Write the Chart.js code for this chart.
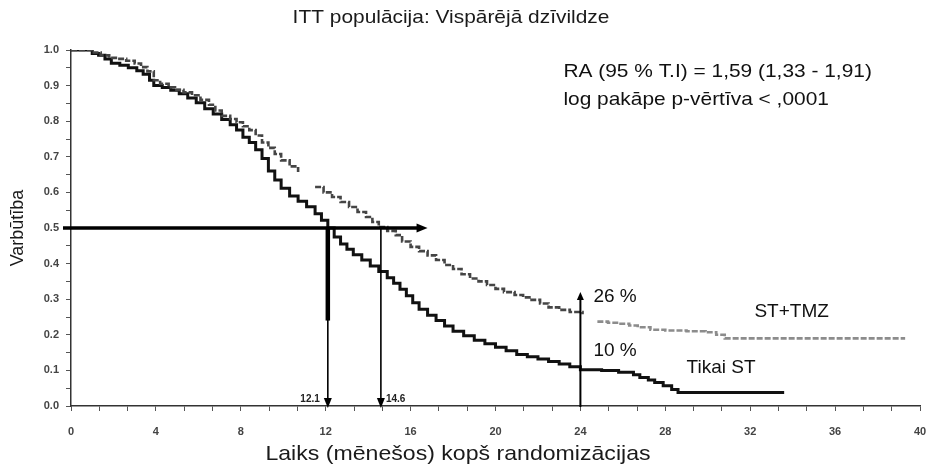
<!DOCTYPE html>
<html><head><meta charset="utf-8">
<script src="https://cdn.jsdelivr.net/npm/chart.js@4.4.1/dist/chart.umd.min.js"></script>
<style>html,body{margin:0;padding:0;background:#fff}#wrap{width:930px;height:468px;position:relative}canvas{display:block}</style>
</head><body><div id="wrap"><canvas id="c" width="930" height="468" style="width:930px;height:468px"></canvas></div>
<script>
// ---- data ----
const tmzTime = [0, 0.6, 1.0, 1.4, 1.8, 2.2, 2.6, 3.0, 3.3, 3.6, 3.9, 4.2, 4.6, 4.9, 5.3, 5.7, 6.1, 6.5, 6.8, 7.1, 7.5, 7.8, 8.1, 8.4, 8.7, 9.0, 9.3, 9.6, 9.9, 10.3, 10.7, 11.1, 11.5, 11.9, 12.3, 12.7, 13.1, 13.5, 13.9, 14.2, 14.5, 14.9, 15.3, 15.6, 16.0, 16.4, 16.8, 17.2, 17.6, 18.0, 18.4, 18.8, 19.2, 19.6, 20.0, 20.4, 20.9, 21.3, 21.7, 22.1, 22.5, 23.0, 23.5, 24.1, 24.4, 24.8, 25.3, 25.8, 26.3, 26.7, 27.3, 28.0, 29.0, 29.9, 30.4, 30.8, 39.3];
const tmzSurv = [1.0, 1.0, 0.993, 0.985, 0.978, 0.975, 0.97, 0.962, 0.952, 0.94, 0.915, 0.905, 0.895, 0.888, 0.881, 0.873, 0.86, 0.846, 0.83, 0.815, 0.806, 0.797, 0.786, 0.775, 0.76, 0.74, 0.725, 0.708, 0.69, 0.673, 0.657, null, 0.615, 0.6, 0.587, 0.573, 0.559, 0.545, 0.531, 0.517, 0.503, 0.492, 0.48, 0.462, 0.447, 0.435, 0.423, 0.41, 0.396, 0.385, 0.37, 0.358, 0.35, 0.34, 0.329, 0.32, 0.312, 0.305, 0.298, 0.288, 0.277, 0.27, 0.264, 0.258, null, 0.237, 0.234, 0.231, 0.226, 0.221, 0.214, 0.212, 0.21, 0.207, 0.2, 0.19, 0.19];
const stTime = [0, 0.7, 1.0, 1.3, 1.6, 1.9, 2.3, 2.7, 3.1, 3.4, 3.7, 3.9, 4.3, 4.7, 5.1, 5.5, 5.9, 6.3, 6.7, 7.1, 7.5, 7.8, 8.1, 8.4, 8.7, 9.0, 9.3, 9.6, 9.9, 10.3, 10.7, 11.1, 11.5, 11.8, 12.1, 12.4, 12.7, 13.0, 13.3, 13.7, 14.1, 14.5, 14.9, 15.2, 15.5, 15.8, 16.1, 16.4, 16.8, 17.2, 17.6, 18.0, 18.5, 19.0, 19.5, 20.0, 20.5, 21.0, 21.5, 22.0, 22.5, 23.0, 23.5, 24.0, 25.0, 25.8, 26.5, 26.8, 27.2, 27.5, 27.9, 28.3, 28.6, 33.6];
const stSurv = [1.0, 1.0, 0.99, 0.985, 0.975, 0.963, 0.957, 0.95, 0.942, 0.932, 0.915, 0.90, 0.895, 0.887, 0.877, 0.865, 0.852, 0.835, 0.82, 0.805, 0.79, 0.775, 0.755, 0.74, 0.72, 0.695, 0.66, 0.635, 0.612, 0.59, 0.575, 0.56, 0.54, 0.522, 0.50, 0.475, 0.455, 0.44, 0.425, 0.41, 0.393, 0.378, 0.36, 0.345, 0.328, 0.31, 0.29, 0.272, 0.255, 0.24, 0.225, 0.21, 0.197, 0.185, 0.175, 0.165, 0.155, 0.145, 0.138, 0.132, 0.125, 0.118, 0.11, 0.102, 0.10, 0.095, 0.088, 0.08, 0.073, 0.066, 0.057, 0.046, 0.038, 0.038];
const seriesNames = ['ST+TMZ', 'Tikai ST'];
const xTickLabels = ['0','4','8','12','16','20','24','28','32','36','40'];
const yTickLabels = ['0.0','0.1','0.2','0.3','0.4','0.5','0.6','0.7','0.8','0.9','1.0'];
const medianLevel = 0.5;
const medianTimes = [12.1, 14.6];
const medianLabels = ['12.1', '14.6'];
const medianArrowEnd = 16.8;
const landmarkTime = 24;
const landmarkTop = 0.32;
const landmarkLabels = ['26 %', '10 %'];
const landmarkLabelValues = [0.306, 0.155];
const seriesLabelPos = [[32.2, 0.264], [29.0, 0.107]];
const statLines = ['RA (95 % T.I) = 1,59 (1,33 - 1,91)', 'log pakāpe p-vērtīva < ,0001'];
const statPos = [[23.2, 0.938], [23.2, 0.86]];
const titleText = 'ITT populācija: Vispārējā dzīvildze';
const xTitle = 'Laiks (mēnešos) kopš randomizācijas';
const yTitle = 'Varbūtība';

const FONT = '"Liberation Sans", Arial, sans-serif';
const toPts = (t, s) => t.map((v, i) => ({x: v, y: s[i]}));

const annot = {
  id: 'annot',
  afterDraw(chart) {
    const {ctx, scales: {x, y}, chartArea: ca} = chart;
    const txt = (s, px, py, size, align, sx) => {
      ctx.save();
      ctx.translate(px, py); ctx.scale(sx || 1, 1);
      ctx.font = size + 'px ' + FONT; ctx.textAlign = align; ctx.textBaseline = 'middle';
      ctx.fillText(s, 0, 0);
      ctx.restore();
    };
    ctx.save();
    ctx.strokeStyle = '#000'; ctx.fillStyle = '#000';
    const arrowHead = (px, py, dir, size, w) => {
      ctx.beginPath();
      if (dir === 'right') { ctx.moveTo(px, py); ctx.lineTo(px - size, py - w); ctx.lineTo(px - size, py + w); }
      if (dir === 'down') { ctx.moveTo(px, py); ctx.lineTo(px - w, py - size); ctx.lineTo(px + w, py - size); }
      if (dir === 'up') { ctx.moveTo(px, py); ctx.lineTo(px - w, py + size); ctx.lineTo(px + w, py + size); }
      ctx.closePath(); ctx.fill();
    };
    const yMed = y.getPixelForValue(medianLevel);
    const y0 = y.getPixelForValue(0);
    ctx.lineWidth = 3.5;
    ctx.beginPath(); ctx.moveTo(ca.left - 8, yMed); ctx.lineTo(x.getPixelForValue(medianArrowEnd) - 8, yMed); ctx.stroke();
    arrowHead(x.getPixelForValue(medianArrowEnd), yMed, 'right', 11, 4.5);
    medianTimes.forEach((t, i) => {
      const px = x.getPixelForValue(t);
      if (i === 0) {
        ctx.lineWidth = 4.5;
        ctx.beginPath(); ctx.moveTo(px, yMed); ctx.lineTo(px, y.getPixelForValue(0.24)); ctx.stroke();
      }
      ctx.lineWidth = 1.6;
      ctx.beginPath(); ctx.moveTo(px, yMed); ctx.lineTo(px, y0 - 8); ctx.stroke();
      arrowHead(px, y0 + 2, 'down', 10, 4);
      ctx.fillStyle = '#222';
      ctx.font = 'bold 10px ' + FONT; ctx.textBaseline = 'middle';
      if (i === 0) { ctx.textAlign = 'right'; ctx.fillText(medianLabels[i], px - 8, y0 - 7); }
      else { ctx.textAlign = 'left'; ctx.fillText(medianLabels[i], px + 5, y0 - 7); }
      ctx.fillStyle = '#000';
    });
    const lx = x.getPixelForValue(landmarkTime);
    ctx.lineWidth = 2;
    ctx.beginPath(); ctx.moveTo(lx, y0 + 1); ctx.lineTo(lx, y.getPixelForValue(landmarkTop) + 6); ctx.stroke();
    arrowHead(lx, y.getPixelForValue(landmarkTop), 'up', 8, 3.5);
    ctx.fillStyle = '#111';
    landmarkLabels.forEach((s, i) => txt(s, lx + 13, y.getPixelForValue(landmarkLabelValues[i]), 19, 'left', 1));
    seriesNames.forEach((s, i) => txt(s, x.getPixelForValue(seriesLabelPos[i][0]), y.getPixelForValue(seriesLabelPos[i][1]), 19, 'left', 1));
    statLines.forEach((s, i) => txt(s, x.getPixelForValue(statPos[i][0]), y.getPixelForValue(statPos[i][1]), 19, 'left', 1.1));
    ctx.fillStyle = '#1a1a1a';
    txt(titleText, 451, 18, 19, 'center', 1.1);
    txt(xTitle, 458, 454, 21, 'center', 1.1);
    ctx.save();
    ctx.translate(18, 228); ctx.rotate(-Math.PI / 2);
    ctx.font = '18px ' + FONT; ctx.textAlign = 'center'; ctx.textBaseline = 'middle';
    ctx.fillText(yTitle, 0, 0);
    ctx.restore();
    ctx.restore();
  }
};

new Chart(document.getElementById('c'), {
  type: 'line',
  data: {
    datasets: [
      {
        label: seriesNames[0], data: toPts(tmzTime, tmzSurv), stepped: true, spanGaps: false,
        borderColor: '#4a4a4a', borderWidth: 2.6, borderDash: [6, 2], pointRadius: 0,
        segment: { borderColor: c => (c.p0.parsed.x >= 24 ? '#8c8c8c' : '#454545') }
      },
      {
        label: seriesNames[1], data: toPts(stTime, stSurv), stepped: true, spanGaps: false,
        borderColor: '#111', borderWidth: 3, pointRadius: 0
      }
    ]
  },
  options: {
    responsive: false, animation: false, devicePixelRatio: 1,
    layout: { padding: { top: 50, right: 10, left: 0, bottom: 0 } },
    plugins: { legend: { display: false }, tooltip: { enabled: false }, title: { display: false } },
    scales: {
      x: {
        type: 'linear', min: 0, max: 40,
        afterBuildTicks: s => { s.ticks = Array.from({length: 31}, (_, i) => ({value: i * 4 / 3})); },
        afterFit: s => { s.height = 62; s.paddingRight = 0; s.paddingLeft = 0; },
        ticks: { autoSkip: false, maxRotation: 0, padding: 14, color: '#444', font: { family: FONT, size: 11, weight: 'bold' },
          callback: (v, i) => (i % 3 === 0 ? xTickLabels[i / 3] : '') },
        grid: { drawOnChartArea: false, drawTicks: true, tickLength: 5, color: '#555' },
        border: { display: true, color: '#333', width: 1.5 }
      },
      y: {
        type: 'linear', min: 0, max: 1,
        afterBuildTicks: s => { s.ticks = Array.from({length: 21}, (_, i) => ({value: i * 0.05})); },
        afterFit: s => { s.width = 71; s.paddingTop = 0; s.paddingBottom = 0; },
        ticks: { autoSkip: false, padding: 7, color: '#444', font: { family: FONT, size: 11, weight: 'bold' },
          callback: (v, i) => (i % 2 === 0 ? yTickLabels[i / 2] : '') },
        grid: { drawOnChartArea: false, drawTicks: true, tickLength: 5, color: '#555' },
        border: { display: true, color: '#333', width: 1.5 }
      }
    }
  },
  plugins: [annot]
});
</script>
</body></html>
